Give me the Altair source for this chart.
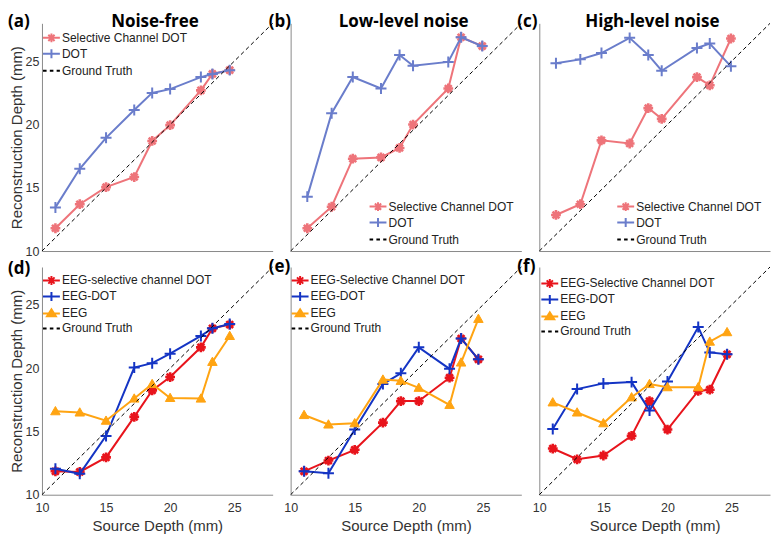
import altair as alt
import pandas as pd

# ---------------- data ----------------
source_depth = [11.05, 12.95, 15.0, 17.2, 18.6, 20.0, 22.4, 23.3, 24.65]
source_depth_bc = [11.3, 13.2, 14.85, 17.05, 18.5, 19.55, 22.3, 23.3, 24.95]
gt_depth = [10, 28]

a_sel = [11.8, 13.7, 15.05, 15.85, 18.7, 19.95, 22.7, 24.0, 24.3]
a_dot = [13.45, 16.5, 18.95, 21.15, 22.5, 22.8, 23.75, 24.0, 24.3]

b_sel = [11.8, 13.5, 17.3, 17.4, 18.15, 20.0, 22.85, 26.9, 26.2]
b_dot = [14.3, 20.9, 23.75, 22.85, 25.5, 24.65, 24.95, 26.9, 26.2]

c_sel = [12.85, 13.7, 18.75, 18.5, 21.3, 20.45, 23.75, 23.1, 26.8]
c_dot = [24.85, 25.15, 25.65, 26.85, 25.5, 24.25, 26.05, 26.4, 24.6]

d_sel = [11.85, 11.8, 12.95, 16.15, 18.25, 19.3, 21.65, 23.15, 23.45]
d_dot = [12.05, 11.65, 14.65, 20.05, 20.4, 21.15, 22.55, 23.15, 23.5]
d_eeg = [16.6, 16.5, 15.85, 17.6, 18.75, 17.65, 17.6, 20.5, 22.55]

e_sel = [11.85, 12.7, 13.55, 15.7, 17.4, 17.4, 19.25, 22.35, 20.7]
e_dot = [11.85, 11.7, 15.15, 18.75, 19.6, 21.65, 19.95, 22.35, 20.7]
e_eeg = [16.3, 15.55, 15.65, 19.1, 19.0, 18.45, 17.1, 20.45, 23.9]

f_sel = [13.65, 12.8, 13.1, 14.65, 17.4, 15.15, 18.2, 18.3, 21.1]
f_dot = [15.2, 18.35, 18.8, 18.9, 16.65, 18.95, 23.25, 21.25, 21.1]
f_eeg = [17.3, 16.5, 15.65, 17.7, 18.75, 18.5, 18.5, 22.1, 22.85]

panel_labels = ["(a)", "(b)", "(c)", "(d)", "(e)", "(f)"]
panel_titles = ["Noise-free", "Low-level noise", "High-level noise", "", "", ""]
top_names = ["Selective Channel DOT", "DOT"]
d_names = ["EEG-selective channel DOT", "EEG-DOT", "EEG"]
ef_names = ["EEG-Selective Channel DOT", "EEG-DOT", "EEG"]
gt_name = "Ground Truth"
ticks = [10, 15, 20, 25]

# ---------------- styling ----------------
W, H = 231, 228
PINK, LBLUE = "#EE747A", "#6A7DCB"
RED, BLUE, ORANGE = "#E8141C", "#1434C4", "#FFA412"
FONT = "Liberation Sans"

STAR = "M-1,0L1,0M0,-1L0,1M-0.7,-0.7L0.7,0.7M-0.7,0.7L0.7,-0.7"
PLUS = "M-1,0L1,0M0,-1L0,1"
TRI = "M-1,0.75L0,-1L1,0.75Z"
LEG = {
    "star": "M-1.3,0L1.3,0M0,-0.68L0,0.68M-0.48,-0.48L0.48,0.48M-0.48,0.48L0.48,-0.48",
    "plus": "M-1.3,0L1.3,0M0,-0.7L0,0.7",
    "tri": "M-1.3,0L1.3,0M-0.68,0.45L0,-0.62L0.68,0.45ZM-0.4,0.28L0,-0.3L0.4,0.28ZM-0.14,0.32L0,0L0.14,0.32Z",
    "dash": "M-1.3,0L-0.75,0M-0.25,0L0.3,0M0.8,0L1.3,0",
}


def panel(idx, series, leg_x, leg_y, show_x, show_y, lab_x, lab_y):
    xenc = alt.X(
        "x:Q",
        scale=alt.Scale(domain=gt_depth, nice=False, zero=False),
        axis=alt.Axis(values=ticks, labels=show_x, labelFlush=False,
                      title="Source Depth (mm)" if show_x else None),
    )
    yenc = alt.Y(
        "y:Q",
        scale=alt.Scale(domain=gt_depth, nice=False, zero=False),
        axis=alt.Axis(values=ticks, labels=show_y,
                      title="Reconstruction Depth (mm)" if show_y else None),
    )
    layers = []
    frames = []
    names, colors, paths, widths = [], [], [], []
    for name, xs, ys, color, marker in series:
        df = pd.DataFrame({"x": xs, "y": ys, "series": name})
        frames.append(df)
        names.append(name)
        colors.append(color)
        paths.append(LEG[marker])
        widths.append(2)
        layers.append(alt.Chart(df).mark_line(color=color, strokeWidth=2).encode(x=xenc, y=yenc))
        if marker == "star":
            pt = alt.Chart(df).mark_point(shape=STAR, filled=False, stroke=color, strokeWidth=2.6,
                                          size=96, opacity=1)
        elif marker == "plus":
            pt = alt.Chart(df).mark_point(shape=PLUS, filled=False, stroke=color, strokeWidth=2,
                                          size=121, opacity=1)
        else:
            pt = alt.Chart(df).mark_point(shape=TRI, filled=True, fill=color, stroke=color,
                                          strokeWidth=1, size=90, opacity=1)
        layers.append(pt.encode(x=xenc, y=yenc))
    gt = pd.DataFrame({"x": gt_depth, "y": gt_depth, "series": gt_name})
    layers.append(alt.Chart(gt).mark_line(color="black", strokeWidth=1, strokeDash=[4, 3])
                  .encode(x=xenc, y=yenc))
    names.append(gt_name)
    colors.append("black")
    paths.append(LEG["dash"])
    widths.append(1.2)

    leg = alt.Legend(orient="none", legendX=leg_x, legendY=leg_y, title=None,
                     labelFont=FONT, labelFontSize=12, labelColor="#222", labelLimit=400,
                     symbolSize=169, symbolOpacity=1, symbolStrokeWidth=2,
                     rowPadding=-2, labelOffset=3, padding=0)
    legend_df = pd.concat(frames + [gt], ignore_index=True)
    layers.append(
        alt.Chart(legend_df).mark_point(opacity=0, filled=False).encode(
            x=xenc, y=yenc,
            color=alt.Color("series:N", scale=alt.Scale(domain=names, range=colors), legend=leg),
            shape=alt.Shape("series:N", scale=alt.Scale(domain=names, range=paths), legend=leg),
            strokeWidth=alt.StrokeWidth("series:N", scale=alt.Scale(domain=names, range=widths),
                                        legend=leg),
        )
    )
    lab_df = pd.DataFrame({"t": [panel_labels[idx]]})
    layers.append(alt.Chart(lab_df).mark_text(font="Open Sans", fontWeight="bold", fontSize=17,
                                              align="left", baseline="alphabetic", color="black")
                  .encode(text="t:N", x=alt.value(lab_x), y=alt.value(lab_y)))
    if panel_titles[idx]:
        t_df = pd.DataFrame({"t": [panel_titles[idx]]})
        layers.append(alt.Chart(t_df).mark_text(font="Open Sans", fontWeight="bold", fontSize=17,
                                                align="center", baseline="alphabetic", color="black")
                      .encode(text="t:N", x=alt.value(W * 0.49), y=alt.value(4)))
    return alt.layer(*layers).properties(width=W, height=H)


pa = panel(0, [(top_names[0], source_depth, a_sel, PINK, "star"),
               (top_names[1], source_depth, a_dot, LBLUE, "plus")], 2, 7, False, True, -34, 4)
pb = panel(1, [(top_names[0], source_depth_bc, b_sel, PINK, "star"),
               (top_names[1], source_depth_bc, b_dot, LBLUE, "plus")], 80, 176, False, False, -22, 4)
pc = panel(2, [(top_names[0], source_depth_bc, c_sel, PINK, "star"),
               (top_names[1], source_depth_bc, c_dot, LBLUE, "plus")], 79, 176, False, False, -22, 4)
pd_ = panel(3, [(d_names[0], source_depth, d_sel, RED, "star"),
                (d_names[1], source_depth, d_dot, BLUE, "plus"),
                (d_names[2], source_depth, d_eeg, ORANGE, "tri")], 2, 6, True, True, -34, 7)
pe = panel(4, [(ef_names[0], source_depth, e_sel, RED, "star"),
               (ef_names[1], source_depth, e_dot, BLUE, "plus"),
               (ef_names[2], source_depth, e_eeg, ORANGE, "tri")], 2, 6, True, False, -22, 5)
pf = panel(5, [(ef_names[0], source_depth, f_sel, RED, "star"),
               (ef_names[1], source_depth, f_dot, BLUE, "plus"),
               (ef_names[2], source_depth, f_eeg, ORANGE, "tri")], 3, 9, True, False, -22, 5)

chart = (
    alt.concat(pa, pb, pc, pd_, pe, pf, columns=3, spacing={"row": 16, "column": 18}, bounds="flush")
    .resolve_scale(color="independent", shape="independent", strokeWidth="independent")
    .properties(padding={"top": 5, "left": 0, "right": 0, "bottom": 0})
    .configure_view(stroke=None)
    .configure_axis(domainColor="#8a8a8a", domainWidth=1, ticks=False, grid=False,
                    labelFont=FONT, labelFontSize=12.5, labelColor="#333",
                    titleFont=FONT, titleFontSize=15, titleFontWeight="normal", titleColor="#333")
    .configure_axisX(labelPadding=7, titlePadding=4)
    .configure_axisY(labelPadding=3, titlePadding=1)
)

chart.save("out.html", embed_options={"renderer": "svg", "actions": False})
